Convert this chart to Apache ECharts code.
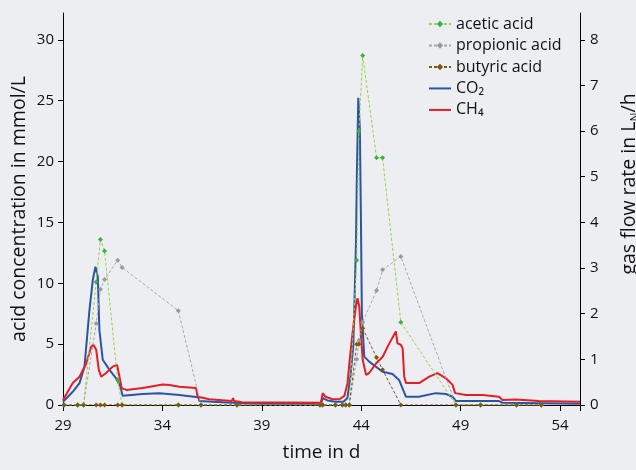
<!DOCTYPE html>
<html style="height: 100%">
    <head>
        <title>Acid concentration and gas flow</title>
        <script type="text/javascript" src="https://fastly.jsdelivr.net/npm/echarts@6.0.0/dist/echarts.min.js"></script>
    </head>
    <body style="height: 100%; margin: 0; background: #edeef1">
        <div id="target" style="width: 636px; height: 470px"></div>
<script>
// sampling times of the acid measurements (d)
let acidDays = [29.05, 29.74, 30.03, 30.67, 30.88, 31.09, 31.75, 31.97, 34.8, 35.94, 37.75,
    41.92, 42.06, 42.7, 43.05, 43.22, 43.4, 43.77, 43.88, 44.07, 44.77, 45.07, 45.99, 48.76, 50.0, 51.8, 53.05];
// acid concentrations (mmol/L)
let acetic = [0, 0, 0, 10.1, 13.6, 12.65, 2.05, 0, 0, 0, 0,
    0, 0, 0, 0, 0, 0, 11.9, 22.5, 28.7, 20.3, 20.3, 6.8, 0, 0, 0, 0];
let propionic = [0, 0, 0, 6.7, 9.5, 10.3, 11.9, 11.3, 7.75, 0, 0,
    0, 0, 0, 0, 0, 0, 3.75, 5.3, 6.8, 9.4, 11.1, 12.2, 0, 0, 0, 0];
let butyric = [0, 0, 0, 0, 0, 0, 0, 0, 0, 0, 0,
    0, 0, 0, 0, 0, 0, 5.0, 5.0, 6.3, 3.9, 2.9, 0, 0, 0, 0, 0];

// gas flow rates (L_N/h)
let co2Days = [29.0, 29.49, 29.83, 30.08, 30.33, 30.5, 30.63, 30.75, 30.83, 31.0, 31.34, 31.67, 31.89, 32.0,
    33.0, 33.85, 34.85, 35.8, 35.86, 36.5, 37.5, 39.0, 41.97, 42.06, 42.3, 42.7, 43.1, 43.3, 43.45, 43.6,
    43.73, 43.78, 43.85, 43.93, 43.98, 44.03, 44.15, 44.4, 45.07, 45.57, 45.9, 46.25, 46.9, 47.75, 48.26,
    48.6, 48.76, 50.9, 51.1, 55.0];
let co2Flow = [0.07, 0.29, 0.48, 0.84, 2.08, 2.74, 3.03, 2.81, 1.64, 0.99, 0.77, 0.585, 0.4, 0.2,
    0.24, 0.26, 0.22, 0.17, 0.09, 0.07, 0.05, 0.03, 0.03, 0.15, 0.1, 0.07, 0.07, 0.15, 0.6, 1.3,
    3.47, 5.08, 6.73, 6.03, 4.2, 2.01, 1.06, 0.95, 0.73, 0.68, 0.55, 0.18, 0.18, 0.26, 0.24,
    0.18, 0.09, 0.09, 0.05, 0.03];
let ch4Days = [29.0, 29.49, 29.83, 30.17, 30.42, 30.53, 30.67, 30.8, 30.92, 31.17, 31.5, 31.72, 31.84, 31.95,
    32.18, 33.01, 34.02, 34.35, 34.85, 35.69, 35.77, 35.86, 36.36, 37.5, 37.55, 37.6, 38.0, 41.97, 42.06,
    42.2, 42.56, 42.9, 43.15, 43.31, 43.4, 43.56, 43.73, 43.81, 43.9, 43.98, 44.07, 44.24, 44.4, 44.74,
    45.07, 45.41, 45.74, 45.82, 45.99, 46.08, 46.16, 46.25, 46.91, 47.42, 47.83, 48.26, 48.59, 48.72,
    49.26, 50.1, 50.93, 51.1, 51.77, 52.94, 55.0];
let ch4Flow = [0.11, 0.48, 0.62, 0.91, 1.28, 1.32, 1.21, 0.77, 0.62, 0.7, 0.84, 0.88, 0.62, 0.37,
    0.33, 0.37, 0.45, 0.44, 0.4, 0.37, 0.18, 0.2, 0.125, 0.09, 0.15, 0.09, 0.06, 0.05, 0.26,
    0.18, 0.125, 0.125, 0.2, 0.48, 0.91, 1.57, 2.16, 2.34, 2.16, 1.57, 0.99, 0.66, 0.7, 0.91,
    1.05, 1.35, 1.61, 1.35, 1.32, 1.24, 0.62, 0.48, 0.48, 0.62, 0.7, 0.585, 0.44, 0.26,
    0.22, 0.22, 0.18, 0.11, 0.12, 0.09, 0.07];

let xTicks = [29, 34, 39, 44, 49, 54];

let pairs = (xs, ys) => xs.map((x, i) => [x, ys[i]]);

let chart = echarts.init(document.getElementById('target'));

let font = "Open Sans";
let acidSeries = (name, values, lineColor, markColor) => ({
    name: name,
    type: "line",
    yAxisIndex: 0,
    data: pairs(acidDays, values),
    symbol: "diamond",
    symbolSize: 5,
    lineStyle: { color: lineColor, width: 1, type: [3, 2] },
    itemStyle: { color: markColor },
    z: 3,
});
let gasSeries = (name, xs, ys, color) => ({
    name: name,
    type: "line",
    yAxisIndex: 1,
    data: pairs(xs, ys),
    symbol: "none",
    lineStyle: { color: color, width: 2 },
    itemStyle: { color: color },
    z: 2,
});

let axisBase = {
    axisLine: { show: true, lineStyle: { color: "#000", width: 1 } },
    axisTick: { show: true, length: 5, lineStyle: { color: "#000" } },
    splitLine: { show: false },
    nameMoveOverlap: false,
};

// flat bar used as legend icon for the gas lines
let lineIcon = "path://M0,0H22V2H0Z";

let option = {
    backgroundColor: "#edeef1",
    animation: false,
    textStyle: { fontFamily: font, color: "#111" },
    grid: { left: 63, right: 56, top: 13, bottom: 65, outerBoundsMode: "none" },
    legend: {
        left: 423,
        top: 6,
        orient: "vertical",
        itemWidth: 22,
        itemHeight: 8,
        itemGap: -4.5,
        data: [
            "acetic acid",
            "propionic acid",
            "butyric acid",
            { name: "CO2", icon: lineIcon },
            { name: "CH4", icon: lineIcon },
        ],
        formatter: (n) => n === "CO2" ? "CO\u2082" : n === "CH4" ? "CH\u2084" : n,
        textStyle: { fontFamily: font, fontSize: 16, color: "#111", lineHeight: 18 },
    },
    xAxis: Object.assign({}, axisBase, {
        type: "value",
        min: 29,
        max: 55,
        interval: 5,
        name: "time in d",
        nameLocation: "middle",
        nameGap: 32,
        nameTextStyle: { fontSize: 19, fontFamily: font, color: "#111" },
        axisTick: { show: true, length: 6, lineStyle: { color: "#000" } },
        axisLabel: {
            fontSize: 15, fontFamily: font, color: "#111", margin: 9,
            formatter: (v) => xTicks.includes(v) ? String(v) : "",
        },
    }),
    yAxis: [
        Object.assign({}, axisBase, {
            type: "value",
            min: 0,
            max: 32.2,
            interval: 5,
            name: "acid concentration in mmol/L",
            nameLocation: "middle",
            nameGap: 28,
            nameTextStyle: { fontSize: 19.5, fontFamily: font, color: "#111" },
            axisLabel: { fontSize: 15, fontFamily: font, color: "#111", margin: 9, showMaxLabel: false },
        }),
        Object.assign({}, axisBase, {
            type: "value",
            position: "right",
            min: 0,
            max: 32.2 * 8 / 30,
            interval: 1,
            name: "gas flow rate in L{s|N}/h",
            nameLocation: "middle",
            nameGap: 34,
            nameRotate: 90,
            nameTextStyle: {
                fontSize: 19.5, fontFamily: font, color: "#111",
                padding: [0, 0, 0, 50],
                rich: { s: { fontSize: 12, fontFamily: font, color: "#111", verticalAlign: "bottom", padding: [11, 0, 0, 0] } },
            },
            axisLabel: { fontSize: 15, fontFamily: font, color: "#111", margin: 10, showMaxLabel: false },
        }),
    ],
    series: [
        gasSeries("CO2", co2Days, co2Flow, "#2b55a3"),
        gasSeries("CH4", ch4Days, ch4Flow, "#e31e24"),
        acidSeries("acetic acid", acetic, "#9bd046", "#3cb043"),
        acidSeries("propionic acid", propionic, "#a8a8a8", "#9a9a9a"),
        acidSeries("butyric acid", butyric, "#7a5a10", "#7a5a10"),
    ],
};

chart.setOption(option);
</script>
    </body>
</html>
